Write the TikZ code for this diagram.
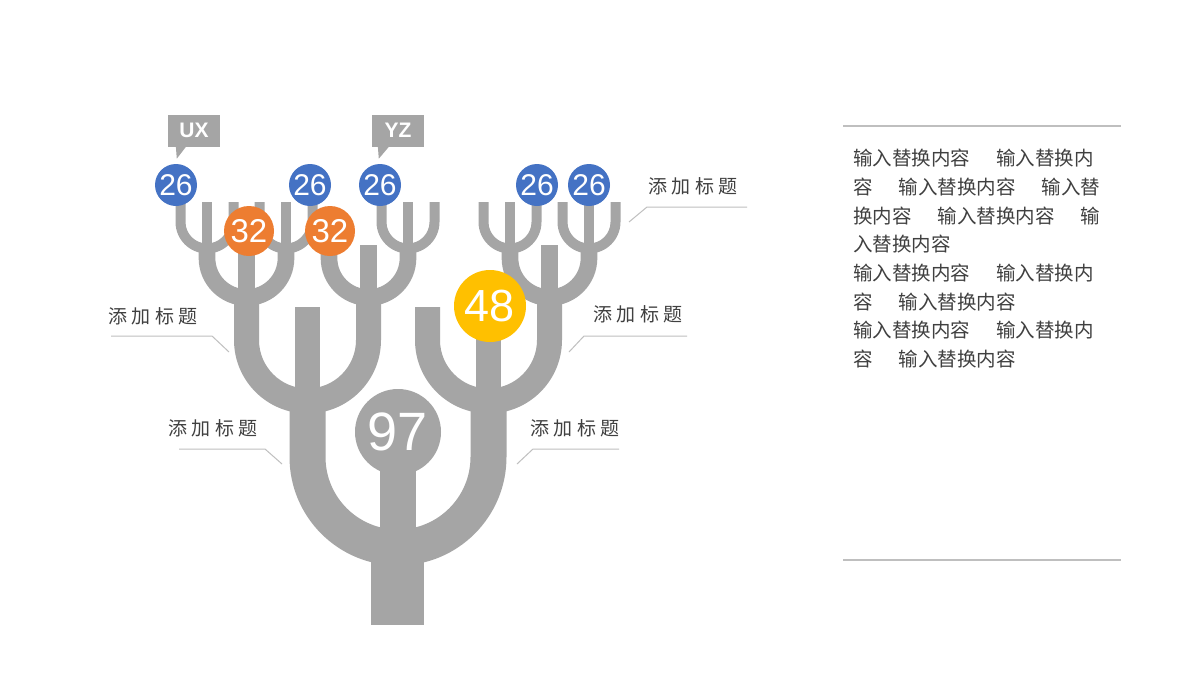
\documentclass[tikz,border=0pt]{standalone}
\usepackage{fontspec}
\setmainfont{Liberation Sans}
\newfontfamily\cjk{Noto Sans CJK SC}
\usepackage{xcolor}

\definecolor{treegray}{HTML}{A5A5A5}
\definecolor{ringblue}{HTML}{4472C4}
\definecolor{ringorange}{HTML}{ED7D31}
\definecolor{ringyellow}{HTML}{FFC000}
\definecolor{rulegray}{HTML}{BFBFBF}
\definecolor{textgray}{HTML}{404040}

% fork: x, centre y, radius, width, left arm top, right arm top, stem top
\newcommand{\fork}[7]{%
  \fill[branch] ({#1-#3-#4/2},#5) -- ({#1-#3-#4/2},#2) arc (180:0:{#3+#4/2})
    -- ({#1+#3+#4/2},#6) -- ({#1+#3-#4/2},#6) -- ({#1+#3-#4/2},#2)
    arc (0:180:{#3-#4/2}) -- ({#1-#3+#4/2},#5) -- cycle;
  \fill[branch] ({#1-#4/2},#7) rectangle ({#1+#4/2},{#2+#3});
}
\newcommand{\tgap}{\hspace{26pt}}
\newcommand{\ttl}{添\hspace{4.5pt}加\hspace{4.5pt}标\hspace{4.5pt}题}

\begin{document}
\begin{tikzpicture}[x=1pt,y=-1pt]
	 \tikzstyle{branch}=[fill=treegray]
	 \tikzstyle{bubble}=[circle,inner sep=0pt,text=white]
	 \tikzstyle{leaf}=[bubble,fill=ringblue,minimum size=42pt,font=\fontsize{30}{30}\selectfont]
	 \tikzstyle{twig}=[bubble,fill=ringorange,minimum size=50pt,font=\fontsize{33}{33}\selectfont]
	 \tikzstyle{callout}=[fill=treegray,text=white,inner sep=0pt,minimum width=52pt,minimum height=32pt,font=\bfseries\fontsize{21}{21}\selectfont]
	 \tikzstyle{title}=[inner sep=0pt,text=textgray,font=\cjk\fontsize{19}{19}\selectfont]
	 \tikzstyle{leader}=[draw=rulegray,line width=1pt]
	 \tikzstyle{rule}=[draw=rulegray,line width=1.2pt]

	 \path[fill=white,use as bounding box] (0,0) rectangle (1200,675);

	 % tree, from the trunk up
	 \fill[branch] (371,540) rectangle (424,625);
	 \fork{398}{457}{90.5}{36}{401}{401}{433}
	 \fork{307.5}{340}{61}{25}{297.5}{297.5}{307}
	 \fork{488.5}{340}{61}{25}{307}{297.5}{306}
	 \fork{246.5}{258}{39.5}{16.7}{248.5}{248.5}{245}
	 \fork{368.5}{258}{39.5}{16.7}{245}{248.5}{245}
	 \fork{549.5}{258}{39.5}{16.7}{248.5}{248.5}{245}
	 \foreach \x in {207,286,408,510,589}
	   \fork{\x}{222}{26.5}{10}{202}{202}{202};

	 \node[bubble,fill=treegray,minimum size=86pt,font=\fontsize{54}{54}\selectfont] (n97) at (398,432) {97};
	 \node[bubble,fill=ringyellow,minimum size=72pt,font=\fontsize{45}{45}\selectfont] (n48) at (490,306) {48};
	 \node[twig] (n32a) at (249,231) {32};
	 \node[twig] (n32b) at (330,231) {32};
	 \node[leaf] (n26a) at (176,185) {26};
	 \node[leaf] (n26b) at (310,185) {26};
	 \node[leaf] (n26c) at (380,185) {26};
	 \node[leaf] (n26d) at (537,185) {26};
	 \node[leaf] (n26e) at (589,185) {26};

	 \node[callout] (ux) at (194,130.5) {UX};
	 \fill[branch] ([xshift=8pt,yshift=1pt]ux.south west) -- ++(11,0) -- ++(-10,13) -- cycle;
	 \node[callout] (yz) at (398,130.5) {YZ};
	 \fill[branch] ([xshift=6pt,yshift=1pt]yz.south west) -- ++(12,0) -- ++(-11,13) -- cycle;

	 % titles and leaders
	 \node[title] (t1) at (693,186) {\ttl};
	 \node[title] (t2) at (638,314) {\ttl};
	 \node[title] (t3) at (153,316) {\ttl};
	 \node[title] (t4) at (213,428) {\ttl};
	 \node[title] (t5) at (575,428) {\ttl};
	 \coordinate (p1) at (629,222);
	 \coordinate (p2) at (569,352);
	 \coordinate (p3) at (229,352);
	 \coordinate (p4) at (282,464);
	 \coordinate (p5) at (517,464);
	 \draw[leader] (p1) -- ++(18,-15) -- ++(100,0);
	 \draw[leader] (p2) -- ++(15,-16) -- ++(103,0);
	 \draw[leader] (p3) -- ++(-17,-16) -- ++(-101,0);
	 \draw[leader] (p4) -- ++(-17,-15) -- ++(-86,0);
	 \draw[leader] (p5) -- ++(16,-15) -- ++(86,0);

	 % text panel
	 \draw[rule] (843,126) -- (1121,126);
	 \draw[rule] (843,560) -- (1121,560);
	 \node[anchor=north west,align=left,inner sep=0pt,text=textgray,font=\cjk\fontsize{19.5}{28.7}\selectfont] (body) at (853,149)
	   {输入替换内容\tgap 输入替换内\\容\tgap 输入替换内容\tgap 输入替\\换内容\tgap 输入替换内容\tgap 输\\入替换内容\\
	    输入替换内容\tgap 输入替换内\\容\tgap 输入替换内容\\输入替换内容\tgap 输入替换内\\容\tgap 输入替换内容};
\end{tikzpicture}
\end{document}
